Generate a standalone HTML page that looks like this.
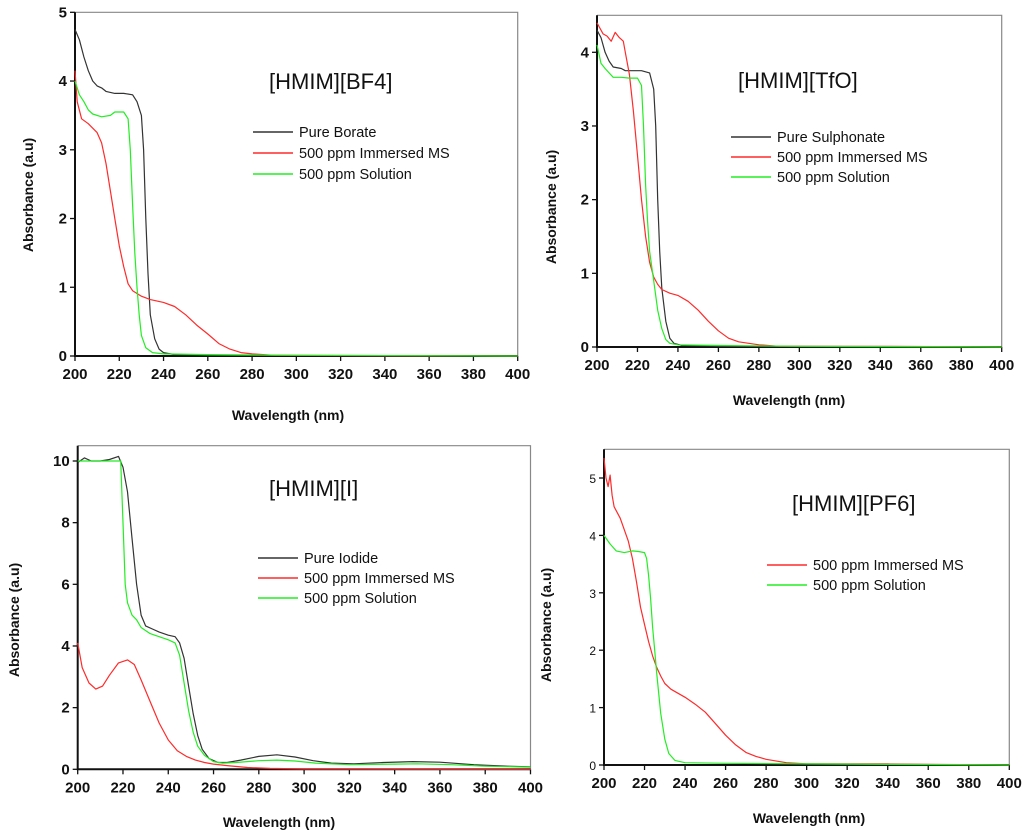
<!DOCTYPE html>
<html><head><meta charset="utf-8">
<style>
html,body{margin:0;padding:0;background:#fff;}
svg{display:block;font-family:"Liberation Sans",sans-serif;}
.tick{font-size:15px;font-weight:bold;fill:#111;}
.tick.small{font-size:12px;font-weight:normal;}
.axt{font-size:14px;font-weight:bold;fill:#111;}
.ttl{font-size:22px;fill:#111;}
.leg{font-size:14.5px;fill:#111;}
</style></head>
<body>
<svg id="chart" width="1024" height="833" viewBox="0 0 1024 833"></svg>
<script>
// ---- data ----
const xTicks = [200,220,240,260,280,300,320,340,360,380,400];
const yTicksBF4 = [0,1,2,3,4,5];
const yTicksTfO = [0,1,2,3,4];
const yTicksI = [0,2,4,6,8,10];
const yTicksPF6 = [0,1,2,3,4,5];

const bf4BlackX = [200,202,204,206,208,210,212,214,218,222,226,228,230,231,232,233,234,236,238,240,245,260,400];
const bf4BlackY = [4.75,4.6,4.35,4.15,4.0,3.93,3.9,3.85,3.82,3.82,3.8,3.7,3.5,3.0,2.0,1.2,0.6,0.25,0.1,0.05,0.02,0.01,0];
const bf4GreenX = [200,202,204,206,208,212,216,218,222,224,225,226,227,228,229,230,232,235,240,260,300,400];
const bf4GreenY = [4.0,3.8,3.7,3.58,3.52,3.48,3.5,3.55,3.55,3.45,3.0,2.2,1.5,1.0,0.6,0.3,0.12,0.05,0.03,0.02,0.01,0];
const bf4RedX = [200,201,203,206,210,212,214,216,218,220,222,224,226,230,234,240,245,250,255,260,265,270,275,280,290,400];
const bf4RedY = [4.15,3.7,3.45,3.38,3.25,3.1,2.8,2.4,2.0,1.6,1.3,1.05,0.95,0.87,0.82,0.78,0.72,0.6,0.45,0.32,0.18,0.1,0.05,0.03,0.01,0];

const tfoBlackX = [200,202,204,206,208,212,214,218,222,226,228,229,230,231,232,234,236,238,242,260,400];
const tfoBlackY = [4.3,4.2,4.0,3.88,3.8,3.78,3.75,3.75,3.75,3.72,3.5,3.0,2.0,1.3,0.8,0.35,0.12,0.05,0.02,0.01,0];
const tfoRedX = [200,201,203,205,207,209,211,213,214,216,218,220,222,224,226,228,230,232,236,240,245,250,255,260,265,270,280,290,340,400];
const tfoRedY = [4.4,4.35,4.25,4.22,4.15,4.27,4.2,4.15,4.0,3.7,3.2,2.6,2.0,1.5,1.15,0.95,0.85,0.78,0.73,0.7,0.62,0.5,0.35,0.22,0.12,0.07,0.03,0.01,0.01,0];
const tfoGreenX = [200,202,204,206,208,212,216,220,222,223,224,225,226,228,230,232,234,236,240,260,300,400];
const tfoGreenY = [4.1,3.85,3.78,3.72,3.66,3.66,3.65,3.65,3.55,3.0,2.2,1.7,1.3,0.9,0.5,0.25,0.1,0.05,0.03,0.02,0.01,0];

const iBlackX = [200,203,206,210,214,218,220,222,224,226,228,230,233,236,240,243,245,247,249,251,253,255,258,262,266,272,280,288,296,304,312,322,335,348,360,375,390,400];
const iBlackY = [9.95,10.1,10.0,10.0,10.05,10.15,9.8,9.0,7.5,6.0,5.0,4.65,4.55,4.45,4.35,4.3,4.1,3.6,2.7,1.8,1.1,0.65,0.35,0.22,0.22,0.3,0.42,0.47,0.4,0.28,0.2,0.18,0.22,0.25,0.23,0.15,0.1,0.08];
const iRedX = [200,202,205,208,211,214,218,222,225,228,232,236,240,244,248,252,256,260,266,275,285,300,400];
const iRedY = [4.1,3.3,2.8,2.6,2.7,3.05,3.45,3.55,3.4,2.9,2.2,1.5,0.95,0.6,0.42,0.3,0.22,0.17,0.12,0.06,0.03,0.01,0];
const iGreenX = [200,219,220,221,222,224,226,228,232,236,240,243,245,247,249,251,253,256,260,264,270,280,288,296,305,320,340,350,365,380,400];
const iGreenY = [10,10,8,6,5.4,5.0,4.85,4.6,4.4,4.3,4.2,4.1,3.7,2.8,1.9,1.2,0.75,0.45,0.25,0.2,0.22,0.28,0.3,0.27,0.2,0.15,0.17,0.18,0.15,0.1,0.07];

const pf6RedX = [200,201,202,203,204,205,208,212,214,216,218,220,222,224,226,228,230,233,236,240,245,250,255,260,265,270,275,280,290,300,340,360,400];
const pf6RedY = [5.35,5.0,4.85,5.05,4.7,4.5,4.3,3.9,3.6,3.2,2.75,2.45,2.15,1.9,1.7,1.55,1.42,1.32,1.26,1.18,1.06,0.92,0.72,0.52,0.35,0.22,0.15,0.1,0.04,0.02,0.02,0.01,0];
const pf6GreenX = [200,203,206,210,214,217,220,221,222,223,224,225,226,228,230,232,235,240,260,300,400];
const pf6GreenY = [4.0,3.85,3.73,3.7,3.73,3.72,3.7,3.6,3.3,2.9,2.4,2.0,1.6,0.9,0.45,0.2,0.08,0.04,0.03,0.02,0];

// ---- drawing ----
const NS = "http://www.w3.org/2000/svg";
const svg = document.getElementById('chart');
function mk(tag, attrs, parent){
  const e = document.createElementNS(NS, tag);
  for (const k in attrs) e.setAttribute(k, attrs[k]);
  (parent||svg).appendChild(e);
  return e;
}
const BLACK="#333", RED="#ff2a2a", GREEN="#22ee22";

function panel(cfg){
  const g = mk('g', {});
  
  
  const xs = v => cfg.x0 + (v-200)/200*(cfg.x1-cfg.x0);
  const ys = v => cfg.y0 - v/cfg.ymax*(cfg.y0-cfg.yTop);
  const fr = mk('path', {d:`M${cfg.x0} ${cfg.fTop} H${cfg.x1} V${cfg.y0}`, fill:'none', stroke:'#888', 'stroke-width':1.2}, g);
  
  
  const ax = mk('path', {d:`M${cfg.x0} ${cfg.fTop} V${cfg.y0} H${cfg.x1}`, fill:'none', stroke:'#111', 'stroke-width':2}, g);
  
  
  xTicks.forEach(t=>{
    mk('line',{x1:xs(t),x2:xs(t),y1:cfg.y0,y2:cfg.y0+5,stroke:'#111','stroke-width':1.3},g);
    const tx = mk('text',{x:xs(t),y:cfg.y0+23,'text-anchor':'middle',class:'tick'},g);
    tx.textContent = t;
    
    
  });
  cfg.yTicks.forEach(t=>{
    mk('line',{x1:cfg.x0-5,x2:cfg.x0,y1:ys(t),y2:ys(t),stroke:'#111','stroke-width':1.3},g);
    const tx = mk('text',{x:cfg.x0-8,y:ys(t)+5,'text-anchor':'end',class:'tick'+(cfg.smallY?' small':'')},g);
    tx.textContent = t;
    
    
  });
  const xt = mk('text',{x:cfg.xtX,y:cfg.xtY,'text-anchor':'middle',class:'axt'},g);
  xt.textContent = 'Wavelength (nm)';
  
  
  const yt = mk('text',{x:0,y:0,'text-anchor':'middle',class:'axt',transform:`translate(${cfg.ytX},${cfg.ytY}) rotate(-90)`},g);
  yt.textContent = 'Absorbance (a.u)';
  
  
  const tt = mk('text',{x:cfg.tX,y:cfg.tY,class:'ttl'},g);
  tt.textContent = cfg.title;
  
  
  cfg.series.forEach((s,i)=>{
    const pts = s.x.map((v,j)=>xs(v).toFixed(1)+','+ys(s.y[j]).toFixed(1)).join(' ');
    const pl = mk('polyline',{points:pts,fill:'none',stroke:s.c,'stroke-width':1.2,'stroke-linejoin':'round'},g);
    
    
    const ly = cfg.legY + i*cfg.legDy;
    const ll = mk('line',{x1:cfg.legX,x2:cfg.legX+40,y1:ly,y2:ly,stroke:s.c,'stroke-width':1.5},g);
    
    
    const lt = mk('text',{x:cfg.legX+46,y:ly+5,class:'leg'},g);
    lt.textContent = s.label;
    
    
  });
}

panel({name:'bf4',x0:75,x1:517.7,y0:356,yTop:12.3,fTop:12.3,ymax:5,yTicks:yTicksBF4,
  xtX:288,xtY:420,ytX:33,ytY:195,title:'[HMIM][BF4]',tX:269,tY:89,legX:253,legY:132,legDy:21,
  series:[{id:'pure-borate',x:bf4BlackX,y:bf4BlackY,c:BLACK,label:'Pure Borate'},
          {id:'immersed-ms',x:bf4RedX,y:bf4RedY,c:RED,label:'500 ppm Immersed MS'},
          {id:'solution',x:bf4GreenX,y:bf4GreenY,c:GREEN,label:'500 ppm Solution'}]});
panel({name:'tfo',x0:597,x1:1001.7,y0:347,yTop:52.3,fTop:15.3,ymax:4,yTicks:yTicksTfO,
  xtX:789,xtY:405,ytX:556,ytY:207,title:'[HMIM][TfO]',tX:738,tY:88,legX:731,legY:137,legDy:20,
  series:[{id:'pure-sulphonate',x:tfoBlackX,y:tfoBlackY,c:BLACK,label:'Pure Sulphonate'},
          {id:'immersed-ms',x:tfoRedX,y:tfoRedY,c:RED,label:'500 ppm Immersed MS'},
          {id:'solution',x:tfoGreenX,y:tfoGreenY,c:GREEN,label:'500 ppm Solution'}]});
panel({name:'iodide',x0:77.7,x1:530.5,y0:769.3,yTop:461,fTop:445.7,ymax:10,yTicks:yTicksI,
  xtX:279,xtY:827,ytX:19,ytY:620,title:'[HMIM][I]',tX:269,tY:496,legX:258,legY:558,legDy:20,
  series:[{id:'pure-iodide',x:iBlackX,y:iBlackY,c:BLACK,label:'Pure Iodide'},
          {id:'immersed-ms',x:iRedX,y:iRedY,c:RED,label:'500 ppm Immersed MS'},
          {id:'solution',x:iGreenX,y:iGreenY,c:GREEN,label:'500 ppm Solution'}]});
panel({name:'pf6',x0:604,x1:1009.3,y0:765,yTop:478,fTop:449.3,ymax:5,yTicks:yTicksPF6,smallY:true,
  xtX:809,xtY:823,ytX:551,ytY:625,title:'[HMIM][PF6]',tX:792,tY:511,legX:767,legY:565,legDy:20,
  series:[{id:'immersed-ms',x:pf6RedX,y:pf6RedY,c:RED,label:'500 ppm Immersed MS'},
          {id:'solution',x:pf6GreenX,y:pf6GreenY,c:GREEN,label:'500 ppm Solution'}]});
</script>
</body></html>
